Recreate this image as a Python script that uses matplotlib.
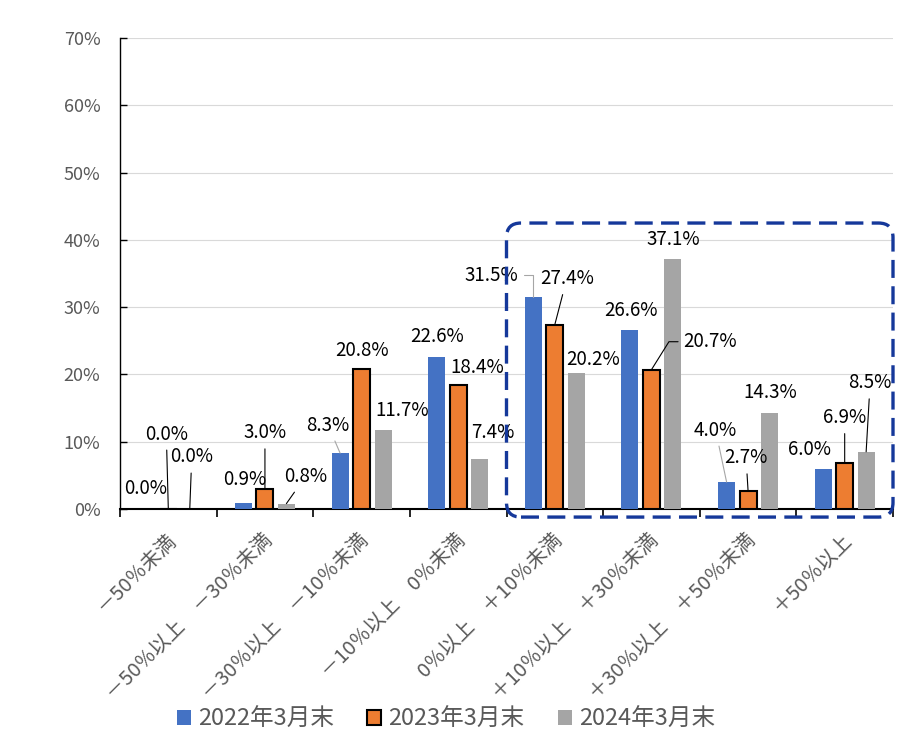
import matplotlib
matplotlib.use('Agg')
import matplotlib.pyplot as plt
import matplotlib.transforms as mtransforms
from matplotlib.patches import FancyBboxPatch

plt.rcParams['font.family'] = ['Noto Sans CJK JP', 'DejaVu Sans']

# Categories (x axis)
CATEGORIES = ["－50％未満",
              "－50％以上　－30％未満",
              "－30％以上　－10％未満",
              "－10％以上　0％未満",
              "0％以上　＋10％未満",
              "＋10％以上　＋30％未満",
              "＋30％以上　＋50％未満",
              "＋50％以上"]
SERIES = ["2022年3月末", "2023年3月末", "2024年3月末"]

# Values (%)
V2022 = [0.0, 0.9, 8.3, 22.6, 31.5, 26.6, 4.0, 6.0]
V2023 = [0.0, 3.0, 20.8, 18.4, 27.4, 20.7, 2.7, 6.9]
V2024 = [0.0, 0.8, 11.7, 7.4, 20.2, 37.1, 14.3, 8.5]

YTICKS = [0, 10, 20, 30, 40, 50, 60, 70]

######################################################################
# Styling / label placement
######################################################################

COLORS = ['#4472C4', '#ED7D31', '#A5A5A5']
EDGES = ['none', 'black', 'none']
TEXT_GRAY = '#595959'
BAR_W = 0.176
BAR_STEP = 0.222

# label offsets from bar top, in pixels (dx, dy)
LABEL_OFFSETS = [
    [(-1, 21), (1, 23), (-12, 28), (0, 20), (-42, 22), (1, 20), (-11, 52), (-14, 19)],
    [(-2, 75), (0, 56), (0, 19), (19, 18), (12, 46), (59, 28), (-2, 33), (0, 45)],
    [(2, 52), (19, 27), (19, 20), (13, 27), (17, 14), (0, 20), (1, 20), (4, 69)],
]
# leader lines: (series, category) -> connection style
LEADERS = {
    (0, 2): 'arc3', (0, 4): 'angle,angleA=0,angleB=90,rad=0', (0, 6): 'arc3',
    (1, 0): 'arc3', (1, 1): 'arc3', (1, 4): 'arc3',
    (1, 5): 'angle,angleA=0,angleB=58,rad=0', (1, 6): 'arc3', (1, 7): 'arc3',
    (2, 0): 'arc3', (2, 1): 'arc3', (2, 7): 'arc3',
}
LEADER_RELPOS = {(0, 4): (1., 0.5), (1, 5): (0., 0.5)}
LEADER_COLORS = ['#A6A6A6', 'black', 'black']


def plot_chart():
    fig = plt.figure(figsize=(9.02, 7.41), dpi=100)
    ax = fig.add_axes([120/902., 1 - 509/741., 773/902., 471/741.])

    values = [V2022, V2023, V2024]
    xs = list(range(len(CATEGORIES)))
    bars = []
    for s, vals in enumerate(values):
        pos = [x + (s - 1) * BAR_STEP for x in xs]
        b = ax.bar(pos, vals, BAR_W, color=COLORS[s], edgecolor=EDGES[s],
                   linewidth=1.5 if s == 1 else 0, label=SERIES[s], zorder=3)
        bars.append(b)
        for i, (x, v) in enumerate(zip(pos, vals)):
            arrow = None
            if (s, i) in LEADERS:
                arrow = dict(arrowstyle='-', color=LEADER_COLORS[s], lw=0.8,
                             shrinkA=2, shrinkB=0,
                             connectionstyle=LEADERS[(s, i)],
                             relpos=LEADER_RELPOS.get((s, i), (0.5, 0.5)))
            ax.annotate('%.1f%%' % v, xy=(x, v), xytext=LABEL_OFFSETS[s][i],
                        textcoords='offset pixels', ha='center', va='center',
                        fontsize=13.5, color='black', arrowprops=arrow,
                        annotation_clip=False, zorder=5)

    ax.set_xlim(-0.5, len(CATEGORIES) - 0.5)
    ax.set_ylim(0, 70)
    ax.set_yticks(YTICKS)
    ax.set_yticklabels(['%d%%' % t for t in YTICKS])
    ax.yaxis.grid(True, color='#D9D9D9', lw=0.8, zorder=0)
    ax.set_axisbelow(True)
    ax.tick_params(axis='y', direction='in', length=5, width=1,
                   labelsize=13, labelcolor=TEXT_GRAY, pad=14)

    ax.set_xticks(xs)
    ax.set_xticklabels(CATEGORIES, rotation=45, ha='right', va='center',
                       rotation_mode='anchor')
    ax.set_xticks([x - 0.5 for x in xs] + [xs[-1] + 0.5], minor=True)
    ax.tick_params(axis='x', which='major', length=0, labelsize=14.5,
                   labelcolor=TEXT_GRAY, pad=20)
    ax.tick_params(axis='x', which='minor', direction='out', length=6,
                   width=1.2)
    shift = mtransforms.ScaledTranslation(4/100., 0, fig.dpi_scale_trans)
    for lab in ax.get_xticklabels():
        lab.set_transform(lab.get_transform() + shift)

    for side in ('top', 'right'):
        ax.spines[side].set_visible(False)
    ax.spines['left'].set_linewidth(1)
    ax.spines['bottom'].set_linewidth(1.5)

    # highlight box around the plus categories
    box = FancyBboxPatch((3.5, -1.2), 4.0, 43.7,
                         boxstyle='round,pad=0,rounding_size=0.15',
                         mutation_aspect=96.6/6.73, transform=ax.transData,
                         fill=False, edgecolor='#15389A', lw=2.4,
                         linestyle=(0, (5.4, 2.5)), clip_on=False, zorder=6)
    ax.add_patch(box)

    fig.legend(handles=bars, labels=SERIES, loc='center',
               bbox_to_anchor=(446/902., 1 - 719/741.), ncol=3,
               frameon=False, fontsize=17, handlelength=0.6,
               handleheight=0.6, handletextpad=0.3, columnspacing=1.4,
               labelcolor=TEXT_GRAY)
    return fig


def main():
    fig = plot_chart()
    fig.savefig('out.png', dpi=100)


if __name__ == '__main__':
    main()
